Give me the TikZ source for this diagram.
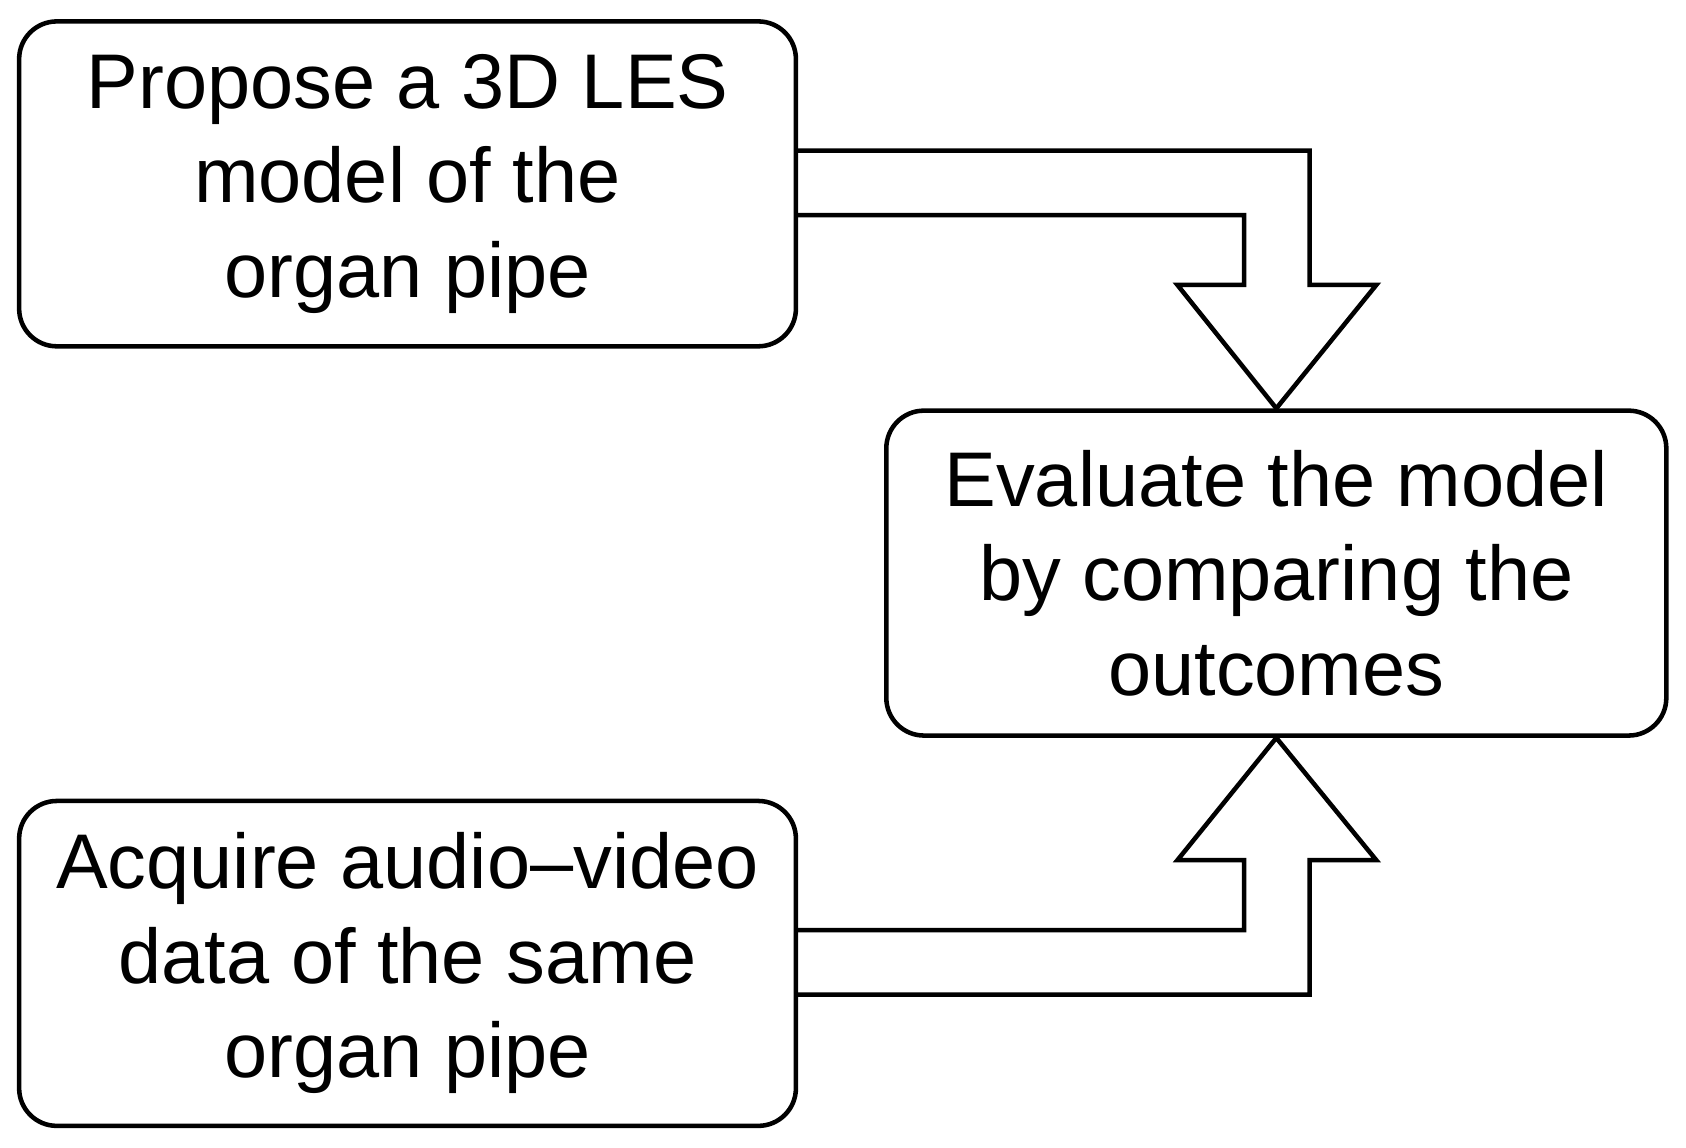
\documentclass[tikz,border=0pt]{standalone}
\usepackage{fontspec}
\setmainfont{Liberation Sans}
\begin{document}
\begin{tikzpicture}[x=0.01cm,y=-0.01cm,line width=1.2pt,
  box/.style={draw,rounded corners=0.35cm,minimum width=7.22cm,minimum height=3.02cm,align=center,font=\fontsize{20.5}{25}\selectfont,inner sep=0pt},
  barrow/.style={draw,line join=miter}]
\useasboundingbox (0,0) rectangle (1568,1067);
\node[box] (a) at (379,171) {Propose a 3D LES\\model of the\\organ pipe};
\node[box,minimum width=7.25cm] (b) at (1187,533) {Evaluate the model\\by comparing the\\outcomes};
\node[box] (c) at (379,896) {Acquire audio–video\\data of the same\\organ pipe};
\draw[barrow] (a.east|-0,140) -- (1218,140) -- (1218,265) -- (1280,265) -- (b.north) -- (1095,265) -- (1157,265) -- (1157,200) -- (a.east|-0,200);
\draw[barrow] (c.east|-0,925) -- (1218,925) -- (1218,800) -- (1280,800) -- (b.south) -- (1095,800) -- (1157,800) -- (1157,865) -- (c.east|-0,865);
\end{tikzpicture}
\end{document}
